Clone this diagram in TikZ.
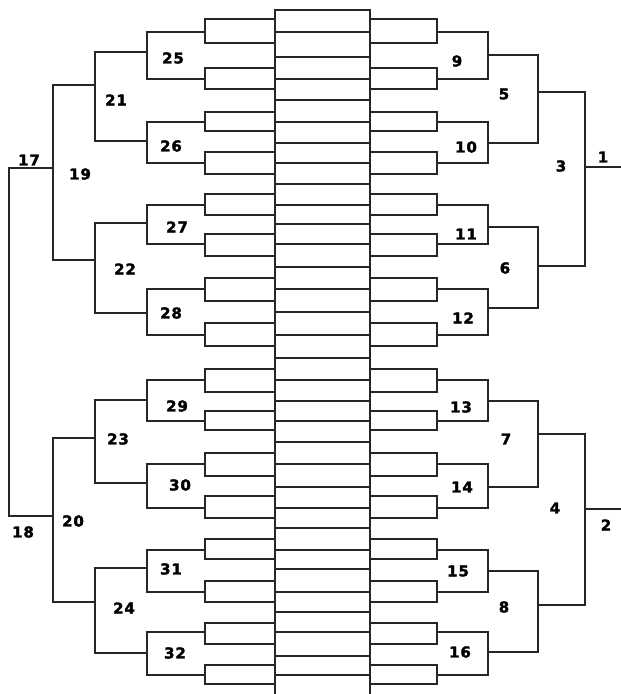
\documentclass[tikz,border=0pt]{standalone}
\usepackage{fontspec}
\newfontfamily\labfont{DejaVu Sans}[LetterSpace=6,BoldFeatures={FakeBold=2}]
\begin{document}
\begin{tikzpicture}[x=1pt,y=-1pt,line width=1.3pt,line join=miter,
  ln/.style={draw=black!85},
  lab/.style={font=\labfont\bfseries\fontsize{15}{15}\selectfont,inner sep=0pt,text=black}]
\useasboundingbox (0,0) rectangle (621,694);
\fill[white] (0,0) rectangle (621,694);
% central column
\draw[ln] (275,694) -- (275,10) -- (370,10) -- (370,694);
\foreach \y in {32,57,79,100,122,143,163,184,205,224,244,267,289,312,335,358,380,401,421,442,464,487,508,528,550,569,592,612,632,656,675}
  \draw[ln] (275,\y) -- (370,\y);
% boxes
\foreach \t/\b in {19/43,68/89,112/131,152/174,194/215,234/256,278/301,323/346,369/392,411/430,453/476,496/518,539/559,581/602,623/644,665/684}{
  \draw[ln] (275,\t) -- (205,\t) -- (205,\b) -- (275,\b);
  \draw[ln] (370,\t) -- (437,\t) -- (437,\b) -- (370,\b);
}
% first round
\foreach \a/\b in {32/79,122/163,205/244,289/335,380/421,464/508,550/592,632/675}{
  \draw[ln] (205,\a) -- (147,\a) -- (147,\b) -- (205,\b);
  \draw[ln] (437,\a) -- (488,\a) -- (488,\b) -- (437,\b);
}
% second round
\foreach \a/\b in {52/141,223/313,400/483,568/653}
  \draw[ln] (147,\a) -- (95,\a) -- (95,\b) -- (147,\b);
\foreach \a/\b in {55/143,227/308,401/487,571/652}
  \draw[ln] (488,\a) -- (538,\a) -- (538,\b) -- (488,\b);
% third round
\foreach \a/\b in {85/260,438/602}
  \draw[ln] (95,\a) -- (53,\a) -- (53,\b) -- (95,\b);
\foreach \a/\b in {92/266,434/605}
  \draw[ln] (538,\a) -- (585,\a) -- (585,\b) -- (538,\b);
% final
\draw[ln] (53,168) -- (9,168) -- (9,516) -- (53,516);
\draw[ln] (585,167) -- (621,167);
\draw[ln] (585,509) -- (621,509);
% labels
\foreach \n/\x/\y in {25/173/58,26/171/146,27/177/227,28/171/313,29/177/406,30/180/485,31/171/569,32/175/653,
  21/116/100,22/125/269,23/118/439,24/124/608,19/80/174,20/73/521,17/29/160,18/23/532,
  9/457/61,10/466/147,11/466/234,12/463/318,13/461/407,14/462/487,15/458/571,16/460/652,
  5/504/94,6/505/268,7/506/439,8/504/607,3/561/166,4/555/508,1/603/157,2/606/525}
  \node[lab] (n\n) at (\x,\y) {\n};
\end{tikzpicture}
\end{document}
